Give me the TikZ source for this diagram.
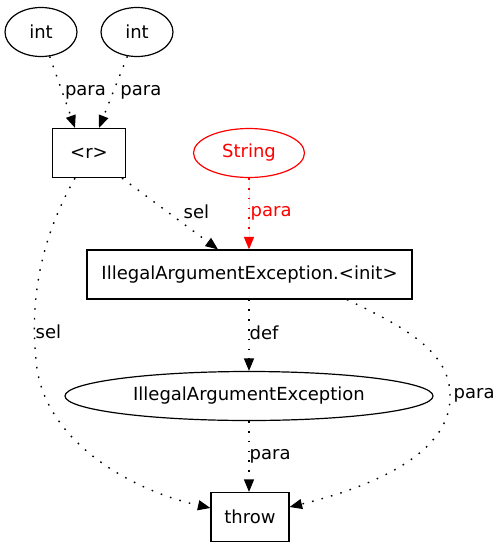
\documentclass[tikz,border=0pt]{standalone}
\usepackage{fontspec}
\setmainfont{DejaVu Sans}
\usetikzlibrary{arrows.meta,shapes.geometric}
\begin{document}
\begin{tikzpicture}[x=1pt,y=-1pt,
  every node/.style={font=\fontsize{18}{21}\selectfont},
  ell/.style={draw,ellipse,line width=1.2pt,minimum height=49pt,inner sep=0pt},
  boxnode/.style={draw,rectangle,line width=1.2pt,minimum height=49pt,inner sep=0pt},
  edge/.style={line width=1.4pt,dash pattern=on 1.6pt off 8.2pt,-{Triangle[length=12.5pt,width=10pt]}},
  lbl/.style={anchor=west,inner sep=0pt,font=\fontsize{18}{21}\selectfont}]
\useasboundingbox (0,0) rectangle (499,547);
\node[ell,minimum width=72pt] (i1) at (41,32) {int};
\node[ell,minimum width=72pt] (i2) at (137,32) {int};
\node[boxnode,minimum width=73pt] (r) at (89,153) {<r>};
\node[ell,minimum width=111pt,draw=red,text=red] (s) at (249,153) {String};
\node[boxnode,minimum width=325pt] (init) at (249.5,274.5) {IllegalArgumentException.<init>};
\node[ell,minimum width=368pt] (iae) at (249,396) {IllegalArgumentException};
\node[boxnode,minimum width=78pt] (t) at (250,517) {throw};
\draw[edge] (i1) -- (r.north -| 75,0) node[lbl,pos=0.5,xshift=2pt] {para};
\draw[edge] (i2) -- (r.north -| 99,0) node[lbl,pos=0.5,xshift=6.5pt] {para};
\draw[edge,draw=red,fill=red] (s) -- (init.north -| 249,0) node[lbl,pos=0.5,xshift=1pt,text=red] {para};
\draw[edge] (r.south -| 122,0) -- (init.north -| 218,0) node[lbl,pos=0.5,xshift=13pt,yshift=2pt] {sel};
\draw[edge] (init.south -| 249,0) -- (iae) node[lbl,pos=0.5,yshift=2.5pt] {def};
\draw[edge] (iae) -- (t.north -| 249,0) node[lbl,pos=0.5] {para};
\draw[edge] (r.south -| 75,0) .. controls (40,240) and (30,300) .. (36,360)
  node[lbl,xshift=-1pt,yshift=28pt] {sel}
  .. controls (42,440) and (130,490) .. (t.west |- 0,508);
\draw[edge] (init.south -| 347,0) .. controls (400,325) and (450,350) .. (450,395)
  node[lbl,xshift=3pt] {para}
  .. controls (452,450) and (380,485) .. (t.east |- 0,507);
\end{tikzpicture}
\end{document}
